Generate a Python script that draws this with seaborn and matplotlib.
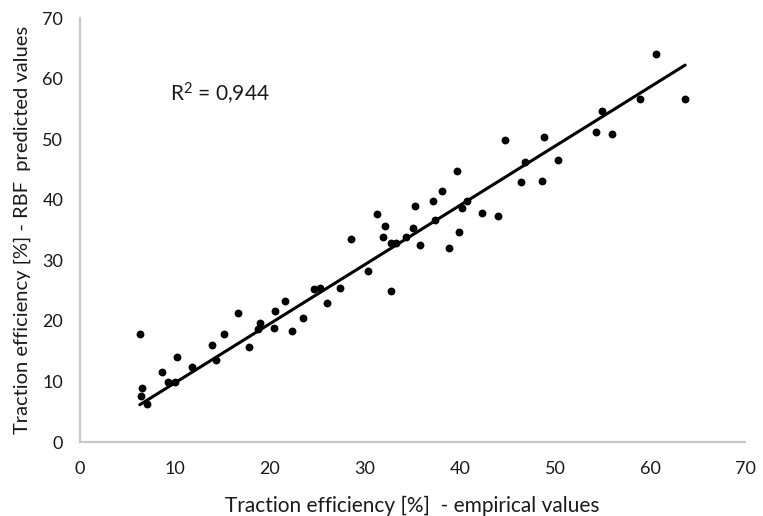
import numpy as np
import pandas as pd
import matplotlib
matplotlib.use("Agg")
import matplotlib.pyplot as plt
import seaborn as sns

# empirical vs RBF-predicted traction efficiency [%]
empirical = [
    6.3, 6.5, 6.4, 7.1, 8.6, 9.3, 10.0, 10.2, 11.8, 13.9,
    14.3, 15.2, 16.6, 17.8, 18.9, 18.7, 20.5, 20.4, 21.6, 22.3,
    23.5, 24.6, 25.3, 26.0, 27.4, 28.5, 30.3, 31.3, 31.9, 32.1,
    32.7, 32.7, 33.3, 34.3, 35.1, 35.3, 35.8, 37.2, 37.4, 38.1,
    38.8, 39.9, 40.2, 40.7, 39.7, 42.3, 44.0, 44.7, 46.4, 46.8,
    48.6, 48.8, 50.3, 54.3, 55.0, 56.0, 58.9, 60.6, 63.7,
]
predicted = [
    17.8, 8.9, 7.6, 6.3, 11.6, 9.9, 9.9, 14.1, 12.4, 16.0,
    13.5, 17.8, 21.3, 15.7, 19.7, 18.6, 21.6, 18.8, 23.3, 18.3,
    20.5, 25.2, 25.5, 23.0, 25.5, 33.6, 28.3, 37.6, 33.9, 35.6,
    25.0, 32.9, 32.8, 33.9, 35.3, 38.9, 32.5, 39.8, 36.7, 41.4,
    32.0, 34.7, 38.6, 39.8, 44.8, 37.8, 37.3, 49.8, 42.9, 46.2,
    43.1, 50.4, 46.5, 51.2, 54.6, 50.9, 56.6, 64.1, 56.6,
]
r2_label = r"R$^2$ = 0,944"
ticks = [0, 10, 20, 30, 40, 50, 60, 70]

df = pd.DataFrame({"empirical": empirical, "predicted": predicted})

# Excel-style linear trendline with the intercept set to zero
x = df["empirical"].to_numpy()
y = df["predicted"].to_numpy()
slope = (x * y).sum() / (x * x).sum()
trend = pd.DataFrame({"empirical": [x.min(), x.max()]})
trend["predicted"] = slope * trend["empirical"]

sns.set_theme(style="white")
plt.rcParams["font.family"] = ["Lato", "DejaVu Sans"]
plt.rcParams["mathtext.fontset"] = "custom"
plt.rcParams["mathtext.rm"] = "Lato"
plt.rcParams["mathtext.it"] = "Lato"

fig = plt.figure(figsize=(7.63, 5.16), dpi=100)
ax = fig.add_axes([0.1048, 0.1434, 0.8716, 0.8216])

sns.scatterplot(data=df, x="empirical", y="predicted", ax=ax,
                s=32, color="black", linewidth=0)
sns.lineplot(data=trend, x="empirical", y="predicted", ax=ax,
             color="black", linewidth=2.2)

ax.set_xlim(0, 70)
ax.set_ylim(0, 70)
ax.set_xticks(ticks)
ax.set_yticks(ticks)
ax.tick_params(axis="x", length=0, labelsize=13, colors="#1a1a1a", pad=14)
ax.tick_params(axis="y", length=0, labelsize=13, colors="#1a1a1a", pad=12)

for side in ["top", "right"]:
    ax.spines[side].set_visible(False)
for side in ["left", "bottom"]:
    ax.spines[side].set_color("#c8c8c8")
    ax.spines[side].set_linewidth(1.6)

ax.set_xlabel("Traction efficiency [%]  - empirical values", fontsize=15,
              color="#1a1a1a", labelpad=13)
ax.set_ylabel("Traction efficiency [%] - RBF  predicted values", fontsize=14.5,
              color="#1a1a1a", labelpad=8)

ax.text(9.5, 57.4, r2_label, fontsize=15, color="#1a1a1a", va="center")

fig.savefig("out.png", dpi=100)
